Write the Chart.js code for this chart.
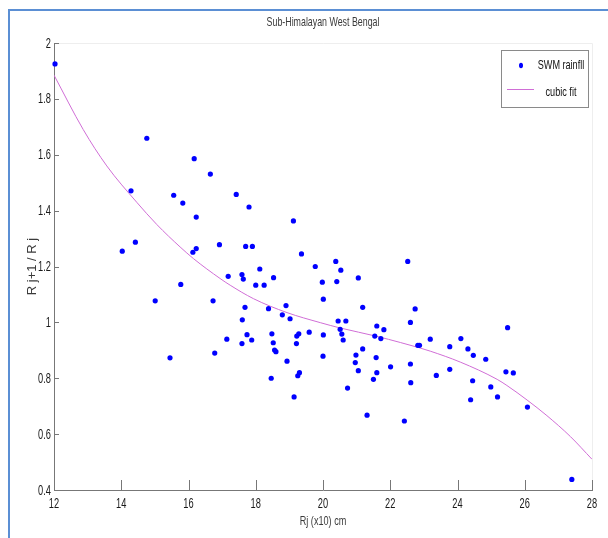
<!DOCTYPE html>
<html>
<head>
<meta charset="utf-8">
<title>Sub-Himalayan West Bengal</title>
<script src="https://cdn.jsdelivr.net/npm/chart.js@4"></script>
<style>
    body { margin: 0; background: #fff; }
    #wrap { position: relative; width: 608px; height: 538px; }
    #frame {
        position: absolute; left: 8px; top: 9px; width: 600px; height: 529px;
        border-top: 2px solid #5b8fd4; border-left: 2px solid #5b8fd4;
        box-sizing: border-box; pointer-events: none;
    }
    canvas { position: absolute; left: 0; top: 0; }
</style>
</head>
<body>
<div id="wrap">
    <canvas id="chartRain" width="608" height="538"></canvas>
    <div id="frame"></div>
</div>
<script>
// values
var rainX = [12.03, 14.76, 16.17, 16.65, 14.29, 15.56, 15.83, 17.42, 16.23, 14.42,
    14.03, 16.92, 16.13, 16.23, 17.18, 17.80, 19.12, 17.70, 17.90, 19.36,
    19.77, 20.38, 20.53, 21.05, 22.52, 18.12, 17.59, 17.63, 18.53, 18.00,
    18.25, 19.98, 20.41, 20.01, 18.90, 17.68, 18.38, 21.18, 22.74, 17.60,
    18.79, 19.02, 20.45, 20.68, 20.51, 20.56, 20.60, 21.60, 21.81, 21.54,
    21.72, 22.60, 22.82, 22.87, 17.74, 17.88, 17.59, 18.48, 18.52, 18.56,
    18.60, 19.28, 19.22, 19.21, 19.59, 20.01, 20.00, 18.93, 21.18, 20.98,
    20.96, 21.05, 21.58, 21.60, 21.50, 22.01, 22.60, 22.61, 18.46, 19.25,
    19.30, 20.73, 19.14, 21.31, 22.42, 23.19, 23.77, 24.10, 24.31, 24.47,
    24.84, 25.49, 23.37, 23.77, 24.45, 24.39, 24.99, 25.19, 25.44, 25.66,
    26.08, 27.40, 15.01, 15.77, 15.45, 16.73, 16.78, 17.14];
var rainY = [1.925, 1.659, 1.586, 1.531, 1.471, 1.455, 1.427, 1.458, 1.377, 1.287,
    1.255, 1.278, 1.251, 1.264, 1.165, 1.413, 1.363, 1.272, 1.272, 1.245,
    1.200, 1.218, 1.187, 1.159, 1.218, 1.191, 1.171, 1.155, 1.160, 1.133,
    1.133, 1.144, 1.146, 1.083, 1.060, 1.054, 1.049, 1.054, 1.048, 1.009,
    1.027, 1.013, 1.005, 1.005, 0.975, 0.958, 0.937, 0.987, 0.974, 0.951,
    0.942, 1.000, 0.918, 0.918, 0.956, 0.937, 0.924, 0.959, 0.927, 0.901,
    0.895, 0.959, 0.951, 0.924, 0.965, 0.955, 0.879, 0.861, 0.905, 0.883,
    0.856, 0.827, 0.874, 0.820, 0.796, 0.841, 0.851, 0.784, 0.800, 0.809,
    0.820, 0.765, 0.733, 0.668, 0.647, 0.940, 0.913, 0.942, 0.905, 0.882,
    0.868, 0.981, 0.810, 0.832, 0.791, 0.723, 0.769, 0.733, 0.823, 0.819,
    0.697, 0.438, 1.077, 1.136, 0.873, 1.077, 0.890, 0.940];

var fitX = [12.0, 12.87, 13.57, 14.46, 15.06, 15.75, 16.15, 16.94, 17.24, 17.93,
    18.93, 19.92, 20.51, 21.60, 22.30, 22.84, 23.19, 24.08, 25.18, 25.47,
    26.07, 26.66, 27.36, 28.0];
var fitY = [1.885, 1.690, 1.560, 1.430, 1.350, 1.270, 1.228, 1.157, 1.133, 1.085,
    1.035, 0.999, 0.980, 0.950, 0.928, 0.910, 0.897, 0.858, 0.796, 0.774,
    0.722, 0.666, 0.591, 0.510];

var xTicks = [12, 14, 16, 18, 20, 22, 24, 26, 28];
var xTickLabels = ['12', '14', '16', '18', '20', '22', '24', '26', '28'];
var yTicks = [0.4, 0.6, 0.8, 1, 1.2, 1.4, 1.6, 1.8, 2];
var yTickLabels = ['0.4', '0.6', '0.8', '1', '1.2', '1.4', '1.6', '1.8', '2'];

var fonte = '"Liberation Sans", Arial, sans-serif';

function pares(xs, ys) {
    var lista = [];
    for (var i = 0; i < xs.length; i++) {
        lista.push({ x: xs[i], y: ys[i] });
    }
    return lista;
}

// matlab text is squeezed sideways, fillText maxWidth does the same
function escreve(ctx, texto, x, y, tamanho, fator, align) {
    ctx.font = tamanho + 'px ' + fonte;
    ctx.textAlign = align || 'center';
    ctx.textBaseline = 'middle';
    ctx.fillText(texto, x, y, ctx.measureText(texto).width * fator);
}

// inward ticks, labels, faint box and the legend inside the axes
var matlabAxes = {
    id: 'matlabAxes',
    beforeDatasetsDraw: function (chart) {
        var a = chart.chartArea;
        var ctx = chart.ctx;
        ctx.save();
        ctx.strokeStyle = '#eeeeee';
        ctx.lineWidth = 1;
        ctx.beginPath();
        ctx.moveTo(a.left, a.top + 0.5);
        ctx.lineTo(a.right + 0.5, a.top + 0.5);
        ctx.lineTo(a.right + 0.5, a.bottom);
        ctx.stroke();
        ctx.restore();
    },
    afterDraw: function (chart) {
        var a = chart.chartArea;
        var ctx = chart.ctx;
        var sx = chart.scales.x;
        var sy = chart.scales.y;
        var opc = chart.options;
        ctx.save();
        ctx.strokeStyle = '#777';
        ctx.lineWidth = 1;
        ctx.beginPath();
        xTicks.forEach(function (v) {
            var px = Math.round(sx.getPixelForValue(v)) + 0.5;
            ctx.moveTo(px, a.bottom);
            ctx.lineTo(px, a.bottom - 10);
        });
        yTicks.forEach(function (v) {
            var py = Math.round(sy.getPixelForValue(v)) + 0.5;
            ctx.moveTo(a.left, py);
            ctx.lineTo(a.left + 5, py);
        });
        ctx.stroke();

        // tick labels
        ctx.fillStyle = '#1a1a1a';
        for (var i = 0; i < xTicks.length; i++) {
            escreve(ctx, xTickLabels[i], sx.getPixelForValue(xTicks[i]), a.bottom + 14, 14.5, 0.64);
        }
        for (var j = 0; j < yTicks.length; j++) {
            escreve(ctx, yTickLabels[j], a.left - 3, sy.getPixelForValue(yTicks[j]) + 0.5, 14.5, 0.64, 'right');
        }

        // titles
        ctx.fillStyle = '#3a3a3a';
        escreve(ctx, opc.plugins.title.text, (a.left + a.right) / 2, 22, 13, 0.68);
        escreve(ctx, opc.scales.x.title.text, (a.left + a.right) / 2, 521, 13, 0.7);
        ctx.save();
        ctx.translate(32, (a.top + a.bottom) / 2);
        ctx.rotate(-Math.PI / 2);
        escreve(ctx, opc.scales.y.title.text, 0, 0, 13, 1);
        ctx.restore();

        // legend
        var ds = chart.data.datasets;
        var bx = a.right - 91, by = a.top + 7, bw = 87, bh = 57;
        ctx.fillStyle = '#fff';
        ctx.fillRect(bx, by, bw, bh);
        ctx.strokeStyle = '#8a8a8a';
        ctx.strokeRect(bx + 0.5, by + 0.5, bw, bh);

        ctx.fillStyle = ds[0].backgroundColor;
        ctx.beginPath();
        ctx.ellipse(bx + 20, by + 15.5, 2, 2.8, 0, 0, Math.PI * 2);
        ctx.fill();

        ctx.strokeStyle = ds[1].borderColor;
        ctx.beginPath();
        ctx.moveTo(bx + 6, by + 39.5);
        ctx.lineTo(bx + 33, by + 39.5);
        ctx.stroke();

        ctx.fillStyle = '#111';
        escreve(ctx, ds[0].label, bx + 60, by + 15, 13, 0.7);
        escreve(ctx, ds[1].label, bx + 60, by + 42, 13, 0.7);
        ctx.restore();
    }
};

var config = {
    type: 'scatter',
    data: {
        datasets: [
            {
                label: 'SWM rainfll',
                data: pares(rainX, rainY),
                backgroundColor: '#0000ff',
                borderWidth: 0,
                pointRadius: 2.6,
                clip: false
            },
            {
                label: 'cubic fit',
                data: pares(fitX, fitY),
                showLine: true,
                borderColor: '#d06ed6',
                borderWidth: 1,
                pointRadius: 0,
                cubicInterpolationMode: 'monotone'
            }
        ]
    },
    options: {
        responsive: false,
        animation: false,
        layout: { padding: { left: 10, top: 43, right: 16, bottom: 0 } },
        plugins: {
            legend: { display: false },
            tooltip: { enabled: false },
            title: { display: false, text: 'Sub-Himalayan West Bengal' }
        },
        scales: {
            x: {
                type: 'linear',
                min: 12,
                max: 28,
                afterBuildTicks: function (s) { s.ticks = xTicks.map(function (v) { return { value: v }; }); },
                afterFit: function (s) { s.height = 48; },
                grid: { display: true, drawOnChartArea: false, drawTicks: false },
                border: { color: '#777', width: 1 },
                ticks: { display: false },
                title: { display: false, text: 'Rj (x10) cm' }
            },
            y: {
                type: 'linear',
                min: 0.4,
                max: 2,
                afterBuildTicks: function (s) { s.ticks = yTicks.map(function (v) { return { value: v }; }); },
                afterFit: function (s) { s.width = 44; },
                grid: { display: true, drawOnChartArea: false, drawTicks: false },
                border: { color: '#777', width: 1 },
                ticks: { display: false },
                title: { display: false, text: 'R j+1 / R j' }
            }
        }
    },
    plugins: [matlabAxes]
};

var myChart = new Chart(document.getElementById('chartRain'), config);
</script>
</body>
</html>
